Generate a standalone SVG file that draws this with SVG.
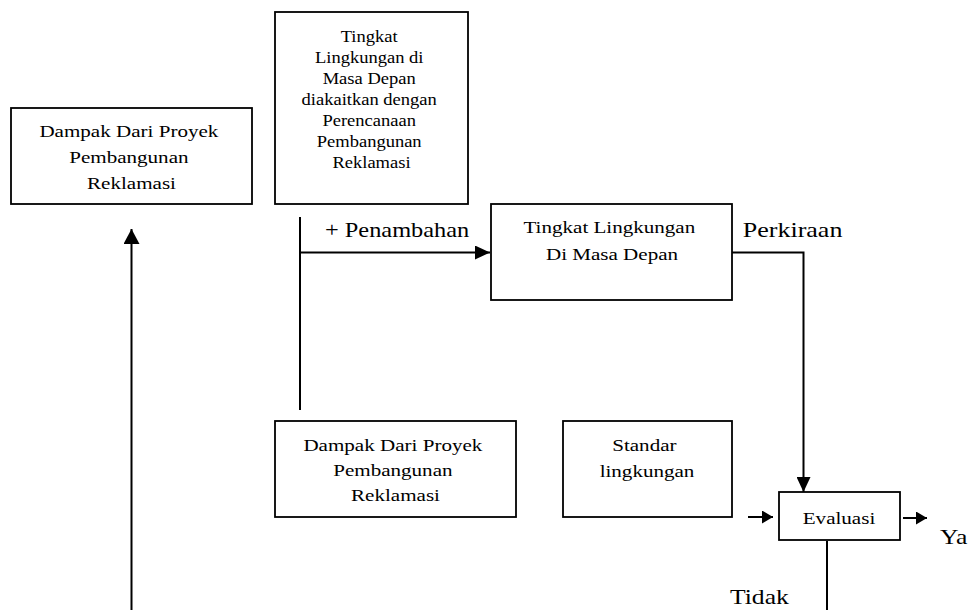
<svg xmlns="http://www.w3.org/2000/svg" width="976" height="610" viewBox="0 0 976 610">
<style>
  .box { fill: #fff; stroke: #000; stroke-width: 1.8; }
  .t { font-family: "Liberation Serif", "Times New Roman", serif; fill: #000; }
  .c { font-size: 17px; text-anchor: middle; }
  .s { font-size: 17px; text-anchor: middle; }
  .lbl { font-size: 21px; }
  .wire { fill: none; stroke: #000; stroke-width: 2; }
</style>
<defs>
  <marker id="big" markerUnits="userSpaceOnUse" markerWidth="16" markerHeight="16" refX="15" refY="8" orient="auto">
    <path d="M0,0 L15,8 L0,16 z" fill="#000"/>
  </marker>
  <marker id="mid" markerUnits="userSpaceOnUse" markerWidth="16" markerHeight="14" refX="15" refY="7" orient="auto">
    <path d="M0,0 L15,7 L0,14 z" fill="#000"/>
  </marker>
  <marker id="small" markerUnits="userSpaceOnUse" markerWidth="12" markerHeight="13" refX="11" refY="6.5" orient="auto">
    <path d="M0,0 L11,6.5 L0,13 z" fill="#000"/>
  </marker>
</defs>

<g id="connectors">
  <line class="wire" x1="131.5" y1="610" x2="131.5" y2="229" marker-end="url(#big)"/>
  <line class="wire" x1="300" y1="217" x2="300" y2="410"/>
  <line class="wire" x1="299" y1="252.5" x2="490" y2="252.5" marker-end="url(#mid)"/>
  <polyline class="wire" points="732,252.5 803.5,252.5 803.5,492" marker-end="url(#mid)"/>
  <line class="wire" x1="748" y1="517" x2="773" y2="517" marker-end="url(#small)"/>
  <line class="wire" x1="903" y1="518" x2="927" y2="518" marker-end="url(#small)"/>
  <line class="wire" x1="827" y1="541" x2="827" y2="610"/>
</g>

<g id="node-dampak-1">
  <rect class="box" x="11" y="108" width="241" height="96"/>
  <text class="t c" transform="translate(131.5,0) scale(1.24,1)">
    <tspan x="0" y="137.5">Dampak Dari Proyek</tspan>
    <tspan x="0" y="163.3">Pembangunan</tspan>
    <tspan x="0" y="189.2">Reklamasi</tspan>
  </text>
</g>

<g id="node-tingkat-rencana">
  <rect class="box" x="275" y="12" width="193" height="192"/>
  <text class="t s" transform="translate(371.5,0) scale(1.09,1)">
    <tspan x="0" y="41.7">Tingkat</tspan>
    <tspan x="0" y="62.9">Lingkungan di</tspan>
    <tspan x="0" y="84">Masa Depan</tspan>
    <tspan x="0" y="105.1">diakaitkan dengan</tspan>
    <tspan x="0" y="126.2">Perencanaan</tspan>
    <tspan x="0" y="147.3">Pembangunan</tspan>
    <tspan x="0" y="168.4">Reklamasi</tspan>
  </text>
</g>

<g id="node-tingkat-depan">
  <rect class="box" x="491" y="204" width="241" height="96"/>
  <text class="t c" transform="translate(612,0) scale(1.24,1)">
    <tspan x="0" y="233.3">Tingkat Lingkungan</tspan>
    <tspan x="0" y="259.8">Di Masa Depan</tspan>
  </text>
</g>

<g id="node-dampak-2">
  <rect class="box" x="275" y="421" width="241" height="96"/>
  <text class="t c" transform="translate(395.5,0) scale(1.24,1)">
    <tspan x="0" y="450.7">Dampak Dari Proyek</tspan>
    <tspan x="0" y="476">Pembangunan</tspan>
    <tspan x="0" y="501">Reklamasi</tspan>
  </text>
</g>

<g id="node-standar">
  <rect class="box" x="563" y="421" width="169" height="96"/>
  <text class="t c" transform="translate(647,0) scale(1.24,1)">
    <tspan x="0" y="451">Standar</tspan>
    <tspan x="0" y="477">lingkungan</tspan>
  </text>
</g>

<g id="node-evaluasi">
  <rect class="box" x="779" y="492" width="121" height="48"/>
  <text class="t c" transform="translate(839,0) scale(1.24,1)">
    <tspan x="0" y="524">Evaluasi</tspan>
  </text>
</g>

<g id="labels">
  <text class="t lbl" transform="translate(325,236.7) scale(1.16,1)">+ Penambahan</text>
  <text class="t lbl" transform="translate(742.7,236.7) scale(1.24,1)">Perkiraan</text>
  <text class="t lbl" transform="translate(940,544) scale(1.22,1)">Ya</text>
  <text class="t lbl" transform="translate(730,603.5) scale(1.22,1)">Tidak</text>
</g>
</svg>
